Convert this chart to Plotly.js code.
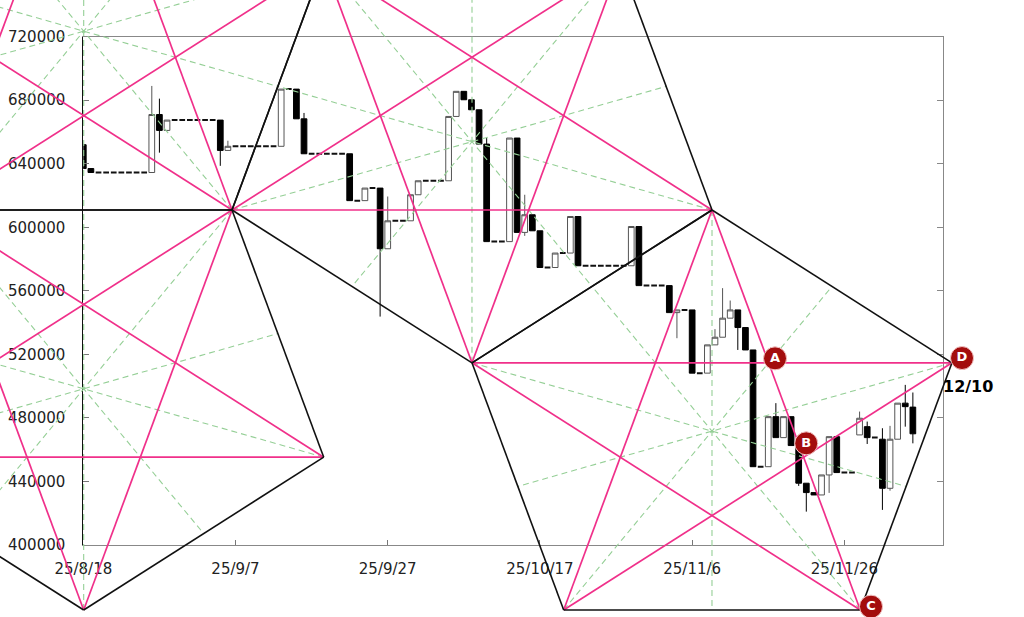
<!DOCTYPE html>
<html><head><meta charset="utf-8">
<script src="https://cdn.plot.ly/plotly-3.0.1.min.js"></script>
<style>html,body{margin:0;padding:0;background:#fff}#chart{width:1024px;height:617px}</style>
</head><body><div id="chart"></div>
<script>
const dates = [
'2025-08-18','2025-08-19','2025-08-20','2025-08-21','2025-08-22','2025-08-23','2025-08-24','2025-08-25','2025-08-26','2025-08-27',
'2025-08-28','2025-08-29','2025-08-30','2025-08-31','2025-09-01','2025-09-02','2025-09-03','2025-09-04','2025-09-05','2025-09-06',
'2025-09-07','2025-09-08','2025-09-09','2025-09-10','2025-09-11','2025-09-12','2025-09-13','2025-09-14','2025-09-15','2025-09-16',
'2025-09-17','2025-09-18','2025-09-19','2025-09-20','2025-09-21','2025-09-22','2025-09-23','2025-09-24','2025-09-25','2025-09-26',
'2025-09-27','2025-09-28','2025-09-29','2025-09-30','2025-10-01','2025-10-02','2025-10-03','2025-10-04','2025-10-05','2025-10-06',
'2025-10-07','2025-10-08','2025-10-09','2025-10-10','2025-10-11','2025-10-12','2025-10-13','2025-10-14','2025-10-15','2025-10-16',
'2025-10-17','2025-10-18','2025-10-19','2025-10-20','2025-10-21','2025-10-22','2025-10-23','2025-10-24','2025-10-25','2025-10-26',
'2025-10-27','2025-10-28','2025-10-29','2025-10-30','2025-10-31','2025-11-01','2025-11-02','2025-11-03','2025-11-04','2025-11-05',
'2025-11-06','2025-11-07','2025-11-08','2025-11-09','2025-11-10','2025-11-11','2025-11-12','2025-11-13','2025-11-14','2025-11-15',
'2025-11-16','2025-11-17','2025-11-18','2025-11-19','2025-11-20','2025-11-21','2025-11-22','2025-11-23','2025-11-24','2025-11-25',
'2025-11-26','2025-11-27','2025-11-28','2025-11-29','2025-11-30','2025-12-01','2025-12-02','2025-12-03','2025-12-04','2025-12-05'];

const openP = [
652000,637000,634500,634500,634500,634500,634500,634500,634500,634500,
671000,661000,667500,667500,667500,667500,667500,667500,667500,648400,
651000,651000,651000,651000,651000,651000,651000,687000,687000,668300,
646300,646300,646300,646300,646300,646300,616800,616800,624700,624700,
586500,604100,604100,604100,620500,629300,629300,629300,629300,669800,
685600,680300,674000,652400,591000,591000,591000,656200,596800,607900,
597800,574700,574700,583800,583800,606800,575800,575800,575800,575800,
575800,575800,575800,600500,563300,563300,563300,563300,546300,548000,
548000,508200,508200,526000,530800,542800,548000,536900,522800,449300,
449300,480800,467600,480800,462600,438900,433000,431500,444100,468200,
445600,445600,469300,474500,467600,466600,435700,466600,489300,486800];

const highP = [
652000,637000,634500,634500,634500,634500,634500,634500,634500,689000,
681000,667500,667500,667500,667500,667500,667500,667500,667500,654500,
651000,651000,651000,651000,651000,651000,687000,687000,687000,672000,
646300,646300,646300,646300,646300,646300,616800,624700,624700,624700,
619400,604100,604100,620500,629300,629300,629300,629300,669800,685600,
685600,680300,674000,656200,591000,591000,656200,656200,620500,607900,
597800,574700,583800,583800,606800,606800,575800,575800,575800,575800,
575800,575800,600500,600500,563300,563300,563300,563300,548000,548000,
548000,508200,526000,535900,561700,553900,548000,536900,522800,449300,
480800,489300,480800,480800,462600,438900,433000,444100,468200,468200,
445600,445600,484000,477700,467600,473500,475000,489300,500800,496000];

const lowP = [
637000,634500,634500,634500,634500,634500,634500,634500,634500,634500,
647000,661000,667500,667500,667500,667500,667500,667500,638700,648400,
651000,651000,651000,651000,651000,651000,651000,687000,668300,646300,
646300,646300,646300,646300,646300,616800,616800,616800,624700,543800,
586500,604100,604100,604100,620500,629300,629300,629300,629300,669800,
680300,674000,652400,591000,591000,591000,591000,596800,594600,597800,
574700,574700,574700,583800,583800,575800,575800,575800,575800,575800,
575800,575800,575800,563300,563300,563300,563300,546300,530200,548000,
508200,508200,508200,526000,530800,542800,522800,522800,449300,449300,
449300,467600,467600,462600,437200,421000,431500,431500,432800,445600,
445600,445600,469300,463600,467600,422100,434200,466600,474500,464000];

const closeP = [
637000,634500,634500,634500,634500,634500,634500,634500,634500,671000,
661000,667500,667500,667500,667500,667500,667500,667500,648400,651000,
651000,651000,651000,651000,651000,651000,687000,687000,668300,646300,
646300,646300,646300,646300,646300,616800,616800,624700,624700,586500,
604100,604100,604100,620500,629300,629300,629300,629300,669800,685600,
680300,674000,652400,591000,591000,591000,656200,596800,607900,597800,
574700,574700,583800,583800,606800,575800,575800,575800,575800,575800,
575800,575800,600500,563300,563300,563300,563300,546300,548000,548000,
508200,508200,526000,530800,542800,548000,536900,522800,449300,449300,
480800,467600,480800,462600,438900,433000,431500,444100,468200,445600,
445600,445600,479800,467600,467600,435700,466600,489300,487100,470000];

const tickDates = ['2025-08-18','2025-09-07','2025-09-27','2025-10-17','2025-11-06','2025-11-26'];
const tickLabels = ['25/8/18','25/9/7','25/9/27','25/10/17','25/11/6','25/11/26'];
const priceTicks = [400000,440000,480000,520000,560000,600000,640000,680000,720000];
const xStart = '2025-08-18', xEnd = '2025-12-09';
const yMin = 400000, yMax = 720000;

// Pentagon vertices: [days after 2025-08-18, price]
const geoPts = {
  a0:[0.05,862700], a1:[31.59,766500], a2:[19.54,610900], a3:[-19.43,610900], a4:[-31.49,766500],
  b0:[51.07,514700], b1:[82.61,610900], b2:[70.56,766500],
  c0:[0.05,359100], c1:[31.59,455300], c4:[-31.49,455300],
  d1:[114.14,514700], d2:[102.09,359100], d3:[63.12,359100]
};
const pentagons = [
  ['a0','a1','a2','a3','a4'],
  ['b0','b1','b2','a1','a2'],
  ['c0','c1','a2','a3','c4'],
  ['b1','d1','d2','d3','b0']
];
// point labels [days, price]
const labelNames = ['A','B','C','D'];
const labelDays  = [90.89, 94.99, 103.5, 115.46];
const labelPrice = [517500, 464000, 361200, 517700];
const dateNote = {text:'12/10', day:116.25, price:499500};

// ---- layout geometry (pixels)
const W=1024, H=617, PL=83.3, PR=943.3, PT=36.7, PB=545;
const spanDays = (Date.parse(xEnd)-Date.parse(xStart))/864e5;
const ppd = (PR-PL)/spanDays;
const ppp = (PB-PT)/(yMax-yMin);
const x2range = [-PL/ppd, (W-PL)/ppd];
const y2range = [yMin-(H-PB)/ppp, yMax+PT/ppp];

// split flat (no trade) days
const isFlat = dates.map((d,i)=>openP[i]===highP[i]&&highP[i]===lowP[i]&&lowP[i]===closeP[i]);
function pick(arr, flat){return arr.filter((v,i)=>isFlat[i]===flat);}

const traces = [];
traces.push({
  type:'candlestick', x:pick(dates,false), open:pick(openP,false), high:pick(highP,false),
  low:pick(lowP,false), close:pick(closeP,false), xaxis:'x', yaxis:'y',
  increasing:{line:{color:'#555',width:1}, fillcolor:'#ffffff'},
  decreasing:{line:{color:'#000',width:1}, fillcolor:'#000000'},
  whiskerwidth:0, hoverinfo:'skip', showlegend:false
});
traces.push({
  type:'candlestick', x:pick(dates,true), open:pick(openP,true), high:pick(highP,true),
  low:pick(lowP,true), close:pick(closeP,true), xaxis:'x', yaxis:'y',
  increasing:{line:{color:'#111',width:2}, fillcolor:'#111'},
  decreasing:{line:{color:'#111',width:2}, fillcolor:'#111'},
  whiskerwidth:0, hoverinfo:'skip', showlegend:false
});
traces.push({type:'scatter', x:[], y:[], xaxis:'x', yaxis:'y3', showlegend:false});

function segTrace(segs, line){
  const xs=[], ys=[];
  segs.forEach(s=>{xs.push(s[0][0],s[1][0],null); ys.push(s[0][1],s[1][1],null);});
  return {type:'scatter', mode:'lines', x:xs, y:ys, xaxis:'x2', yaxis:'y2', line:line, hoverinfo:'skip', showlegend:false};
}
const edges=[], diags=[], medians=[];
pentagons.forEach(p=>{
  const v = p.map(k=>geoPts[k]);
  for(let i=0;i<5;i++){
    edges.push([v[i], v[(i+1)%5]]);
    diags.push([v[i], v[(i+2)%5]]);
    const m1=v[(i+2)%5], m2=v[(i+3)%5];
    medians.push([v[i], [(m1[0]+m2[0])/2, (m1[1]+m2[1])/2]]);
  }
});
traces.push(segTrace(medians, {color:'#95cf96', width:1.1, dash:'6px,4px'}));
traces.push(segTrace(diags, {color:'#f0308a', width:1.7}));
traces.push(segTrace(edges, {color:'#111', width:1.6}));
traces.push({
  type:'scatter', mode:'markers+text', x:labelDays, y:labelPrice, xaxis:'x2', yaxis:'y2',
  text:labelNames.map(t=>'<b>'+t+'</b>'), textposition:'middle center',
  textfont:{family:'DejaVu Sans', size:13, color:'#ffffff'},
  marker:{size:23, color:'#a30d0d', line:{color:'#f2c4c4', width:1}},
  hoverinfo:'skip', showlegend:false, cliponaxis:false
});

const tickFont = {family:'DejaVu Sans', size:15, color:'#222'};
const layout = {
  width:W, height:H, autosize:false, margin:{l:0,r:0,t:0,b:0},
  paper_bgcolor:'#ffffff', plot_bgcolor:'rgba(0,0,0,0)', showlegend:false,
  boxgap:0.25, boxgroupgap:0,
  xaxis:{type:'date', domain:[PL/W, PR/W], range:[xStart,xEnd], anchor:'y',
    tickvals:tickDates, ticktext:tickLabels, ticks:'inside', ticklen:5, tickcolor:'#777',
    showline:true, linecolor:'#888', linewidth:1, mirror:true, showgrid:false, zeroline:false,
    rangeslider:{visible:false}, tickfont:tickFont, ticklabelstandoff:10, fixedrange:true},
  yaxis:{domain:[1-PB/H, 1-PT/H], range:[yMin,yMax], anchor:'x', tickvals:priceTicks,
    tickformat:'d', ticks:'inside', ticklen:6, tickcolor:'#777', showline:true, linecolor:'#111',
    linewidth:1, showgrid:false, zeroline:false, tickfont:tickFont, ticklabelstandoff:14, fixedrange:true},
  yaxis3:{overlaying:'y', side:'right', anchor:'x', range:[yMin,yMax], tickvals:priceTicks,
    ticks:'inside', ticklen:6, tickcolor:'#888', showticklabels:false, showline:true,
    linecolor:'#888', linewidth:1, showgrid:false, zeroline:false, fixedrange:true},
  xaxis2:{domain:[0,1], range:x2range, anchor:'y2', visible:false, fixedrange:true},
  yaxis2:{domain:[0,1], range:y2range, anchor:'x2', visible:false, fixedrange:true},
  annotations:[{xref:'x2', yref:'y2', x:dateNote.day, y:dateNote.price, text:'<b>'+dateNote.text+'</b>',
    showarrow:false, font:{family:'DejaVu Sans', size:16, color:'#000'}}]
};
Plotly.newPlot('chart', traces, layout, {staticPlot:true, displayModeBar:false});
</script></body></html>
